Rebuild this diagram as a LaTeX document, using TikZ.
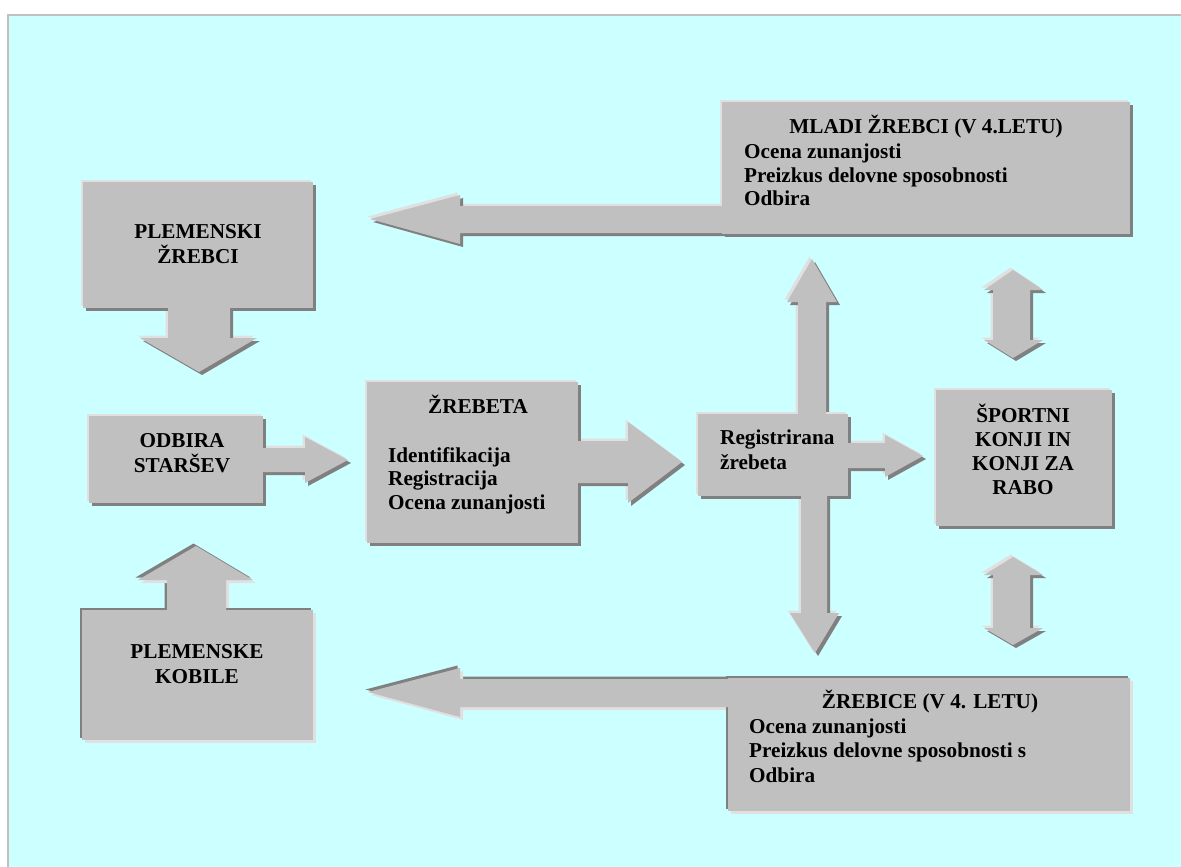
\documentclass[tikz,border=0pt]{standalone}
\usepackage{fontspec}
\setmainfont{Liberation Serif}
\definecolor{bgc}{HTML}{CCFFFF}
\definecolor{framec}{HTML}{C0C0C0}
\definecolor{boxc}{HTML}{C0C0C0}
\definecolor{lightc}{HTML}{E0E0E0}
\definecolor{darkc}{HTML}{808080}
\newcommand\shadowsof[3]{%
  \fill[#1,shift={(-2.5,-2.5)}] #3;
  \fill[#2,shift={(3,3)}] #3;}
\newcommand\bevelbox[3]{\shadowsof{#1}{#2}{#3}\fill[boxc] #3;}
\begin{document}
\begin{tikzpicture}[x=1pt,y=-1pt,
  txt/.style={font=\fontsize{21.2}{24}\selectfont\bfseries, inner sep=0pt, text=black},
  ttl/.style={txt, anchor=base},
  lst/.style={txt, anchor=base west}]
\useasboundingbox (0,0) rectangle (1181,867);
\fill[white] (0,0) rectangle (1181,867);
\fill[bgc] (8,15) rectangle (1181,867);
\draw[framec, line width=2pt] (8,867) -- (8,15) -- (1181,15);

% shape paths
\def\bPZ{(83,182) rectangle (313,308)}
\def\bOS{(89,416) rectangle (263,503)}
\def\bPK{(82,610) rectangle (313,740)}
\def\bZB{(367,382) rectangle (578,543)}
\def\bRZ{(698,414) rectangle (848,496)}
\def\bSP{(936,390) rectangle (1112,526)}
\def\bML{(722,102) rectangle (1130,234)}
\def\bZC{(728,678) rectangle (1130,811)}
\def\aPZ{(168,300) -- (230,300) -- (230,338) -- (257,338) -- (199,372) -- (140,338) -- (168,338) -- cycle}
\def\aOS{(255,448) -- (305,448) -- (305,437) -- (348,460) -- (305,483) -- (305,472) -- (255,472) -- cycle}
\def\aPK{(167,618) -- (167,580) -- (138,580) -- (196,546) -- (253,580) -- (226,580) -- (226,618) -- cycle}
\def\aZB{(570,441) -- (628,441) -- (628,422) -- (682,462) -- (628,503) -- (628,483) -- (570,483) -- cycle}
\def\aRZ{(840,443) -- (885,443) -- (885,435) -- (923,456) -- (885,477) -- (885,468) -- (840,468) -- cycle}
\def\aUp{(798,422) -- (798,302) -- (787,302) -- (812,259) -- (837,302) -- (826,302) -- (826,422) -- cycle}
\def\aDn{(801,488) -- (801,613) -- (790,613) -- (815,653) -- (839,613) -- (827,613) -- (827,488) -- cycle}
\def\dTop{(1013,270) -- (1043,290) -- (1030,290) -- (1030,340) -- (1043,340) -- (1013,358) -- (984,340) -- (993,340) -- (993,290) -- (984,290) -- cycle}
\def\dBot{(1013,557) -- (1043,575) -- (1030,575) -- (1030,628) -- (1043,628) -- (1013,645) -- (984,628) -- (993,628) -- (993,575) -- (984,575) -- cycle}
\def\aML{(730,206) -- (460,206) -- (460,195) -- (370,219) -- (460,244) -- (460,233) -- (730,233) -- cycle}
\def\aZC{(736,679) -- (460,679) -- (460,668) -- (368,692) -- (460,717) -- (460,707) -- (736,707) -- cycle}

% arrow shadows
\shadowsof{lightc}{darkc}{\aPZ}
\shadowsof{lightc}{darkc}{\aOS}
\shadowsof{darkc}{lightc}{\aPK}
\shadowsof{lightc}{darkc}{\aZB}
\shadowsof{lightc}{darkc}{\aRZ}
\shadowsof{lightc}{darkc}{\aUp}
\shadowsof{lightc}{darkc}{\aDn}
\shadowsof{lightc}{darkc}{\dTop}
\shadowsof{lightc}{darkc}{\dBot}
\shadowsof{lightc}{darkc}{\aML}
\shadowsof{darkc}{lightc}{\aZC}

% boxes
\bevelbox{lightc}{darkc}{\bPZ}
\bevelbox{lightc}{darkc}{\bOS}
\bevelbox{darkc}{lightc}{\bPK}
\bevelbox{lightc}{darkc}{\bZB}
\bevelbox{lightc}{darkc}{\bRZ}
\bevelbox{lightc}{darkc}{\bSP}
\bevelbox{lightc}{darkc}{\bML}
\bevelbox{darkc}{lightc}{\bZC}

% arrow bodies
\foreach \p in {\aPZ,\aOS,\aPK,\aZB,\aRZ,\aUp,\aDn,\dTop,\dBot,\aML,\aZC}{\fill[boxc] \p;}

% texts
\node[ttl] (pz1) at (198,238) {PLEMENSKI};
\node[ttl] (pz2) at (198,263) {ŽREBCI};
\node[ttl] (os1) at (182,447) {ODBIRA};
\node[ttl] (os2) at (182,472) {STARŠEV};
\node[ttl] (pk1) at (197,658) {PLEMENSKE};
\node[ttl] (pk2) at (197,683) {KOBILE};
\node[ttl] (zb0) at (478,413) {ŽREBETA};
\node[lst] (zb1) at (388,462) {Identifikacija};
\node[lst] (zb2) at (388,485) {Registracija};
\node[lst] (zb3) at (388,509) {Ocena zunanjosti};
\node[lst] (rz1) at (720,444) {Registrirana};
\node[lst] (rz2) at (720,469) {žrebeta};
\node[ttl] (sp1) at (1023,422) {ŠPORTNI};
\node[ttl] (sp2) at (1023,446) {KONJI IN};
\node[ttl] (sp3) at (1023,470) {KONJI ZA};
\node[ttl] (sp4) at (1023,494) {RABO};
\node[ttl] (ml0) at (926,133) {MLADI ŽREBCI (V 4.LETU)};
\node[lst] (ml1) at (744,158) {Ocena zunanjosti};
\node[lst] (ml2) at (744,182) {Preizkus delovne sposobnosti};
\node[lst] (ml3) at (744,205) {Odbira};
\node[ttl] (zc0) at (930,708) {ŽREBICE (V 4. LETU)};
\node[lst] (zc1) at (749,733) {Ocena zunanjosti};
\node[lst] (zc2) at (749,757) {Preizkus delovne sposobnosti s};
\node[lst] (zc3) at (749,782) {Odbira};
\end{tikzpicture}
\end{document}
